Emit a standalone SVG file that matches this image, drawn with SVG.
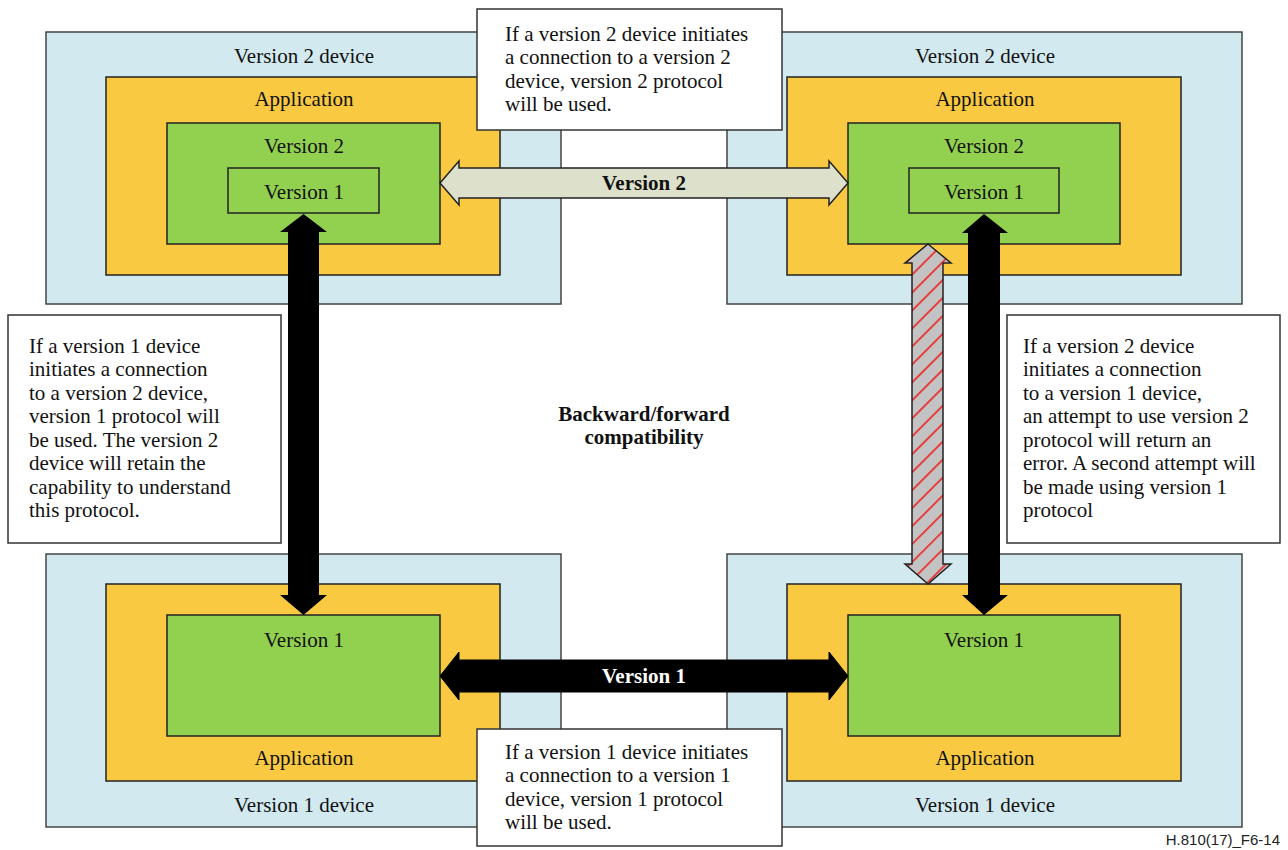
<svg xmlns="http://www.w3.org/2000/svg" width="1288" height="850" viewBox="0 0 1288 850">
<style>
.dev{fill:#D2E9EF;stroke:#444;stroke-width:1.5}
.app{fill:#F9C941;stroke:#222;stroke-width:1.5}
.ver{fill:#92D050;stroke:#222;stroke-width:1.5}
.box{fill:#fff;stroke:#333;stroke-width:1.5}
.t{font-family:"Liberation Serif","Times New Roman",serif;font-size:21px;fill:#111}
.c{text-anchor:middle}
.b{font-weight:bold}
</style>
<defs>
<pattern id="hatch" width="12.7" height="12.7" patternUnits="userSpaceOnUse" patternTransform="rotate(45)">
<rect width="12.7" height="12.7" fill="#C3C3C3"/>
<line x1="1" y1="0" x2="1" y2="12.7" stroke="#F02020" stroke-width="1.6"/>
</pattern>
</defs>
<rect width="1288" height="850" fill="#fff"/>

<g id="dev-tl">
<rect class="dev" x="46" y="32" width="515" height="272"/>
<text class="t c" x="304" y="63">Version 2 device</text>
<rect class="app" x="106" y="77" width="394" height="198"/>
<text class="t c" x="304" y="106">Application</text>
<rect class="ver" x="167" y="123" width="273" height="121"/>
<text class="t c" x="304" y="153">Version 2</text>
<rect class="ver" x="228" y="168" width="151" height="45"/>
<text class="t c" x="304" y="199">Version 1</text>
</g>

<g id="dev-tr">
<rect class="dev" x="727" y="32" width="515" height="272"/>
<text class="t c" x="985" y="63">Version 2 device</text>
<rect class="app" x="787" y="77" width="394" height="198"/>
<text class="t c" x="985" y="106">Application</text>
<rect class="ver" x="848" y="123" width="272" height="121"/>
<text class="t c" x="984" y="153">Version 2</text>
<rect class="ver" x="909" y="168" width="150" height="45"/>
<text class="t c" x="984" y="199">Version 1</text>
</g>

<g id="dev-bl">
<rect class="dev" x="46" y="554" width="515" height="273"/>
<text class="t c" x="304" y="812">Version 1 device</text>
<rect class="app" x="106" y="584" width="394" height="197"/>
<text class="t c" x="304" y="765">Application</text>
<rect class="ver" x="167" y="615" width="273" height="121"/>
<text class="t c" x="304" y="647">Version 1</text>
</g>

<g id="dev-br">
<rect class="dev" x="727" y="554" width="515" height="273"/>
<text class="t c" x="985" y="812">Version 1 device</text>
<rect class="app" x="787" y="584" width="394" height="197"/>
<text class="t c" x="985" y="765">Application</text>
<rect class="ver" x="848" y="615" width="272" height="121"/>
<text class="t c" x="984" y="647">Version 1</text>
</g>

<g id="connectors">
<polygon points="440,183 459,161 459,168 829,168 829,161 848,183 829,205 829,198 459,198 459,205" fill="#DDE1CC" stroke="#222" stroke-width="1.5"/>
<text class="t c b" x="644" y="190">Version 2</text>
<polygon points="440,676 459,652 459,660 829,660 829,652 848,676 829,700 829,692 459,692 459,700" fill="#000" stroke="#000" stroke-width="1"/>
<text class="t c b" x="644" y="683" fill="#fff" style="fill:#fff">Version 1</text>
<polygon points="303.5,214 327,232 319,232 319,595 327,595 303.5,615 280,595 288,595 288,232 280,232" fill="#000"/>
<polygon points="984,214 1008,233 1000,233 1000,595 1008,595 984,615 962,595 968,595 968,233 962,233" fill="#000"/>
<polygon points="928,244 951,263 943,263 943,564 951,564 928,584 905,564 912,564 912,263 905,263" fill="url(#hatch)" stroke="#222" stroke-width="1.5"/>
</g>

<g id="note-top">
<rect class="box" x="477" y="9" width="305" height="121"/>
<text class="t" x="505" y="41">If a version 2 device initiates</text>
<text class="t" x="505" y="64">a connection to a version 2</text>
<text class="t" x="505" y="88">device, version 2 protocol</text>
<text class="t" x="505" y="111">will be used.</text>
</g>

<g id="note-bottom">
<rect class="box" x="477" y="729" width="305" height="117"/>
<text class="t" x="505" y="759">If a version 1 device initiates</text>
<text class="t" x="505" y="782">a connection to a version 1</text>
<text class="t" x="505" y="806">device, version 1 protocol</text>
<text class="t" x="505" y="829">will be used.</text>
</g>

<g id="note-left">
<rect class="box" x="8" y="315" width="273" height="228"/>
<text class="t" x="29" y="353">If a version 1 device</text>
<text class="t" x="29" y="376">initiates a connection</text>
<text class="t" x="29" y="400">to a version 2 device,</text>
<text class="t" x="29" y="423">version 1 protocol will</text>
<text class="t" x="29" y="447">be used. The version 2</text>
<text class="t" x="29" y="470">device will retain the</text>
<text class="t" x="29" y="494">capability to understand</text>
<text class="t" x="29" y="517">this protocol.</text>
</g>

<g id="note-right">
<rect class="box" x="1007" y="315" width="273" height="228"/>
<text class="t" x="1023" y="353">If a version 2 device</text>
<text class="t" x="1023" y="376">initiates a connection</text>
<text class="t" x="1023" y="400">to a version 1 device,</text>
<text class="t" x="1023" y="423">an attempt to use version 2</text>
<text class="t" x="1023" y="447">protocol will return an</text>
<text class="t" x="1023" y="470">error. A second attempt will</text>
<text class="t" x="1023" y="494">be made using version 1</text>
<text class="t" x="1023" y="517">protocol</text>
</g>

<g id="title">
<text class="t c b" x="644" y="421">Backward/forward</text>
<text class="t c b" x="644" y="444">compatibility</text>
</g>

<text x="1280" y="845" text-anchor="end" style="font-family:'Liberation Sans',Arial,sans-serif;font-size:15px;fill:#222">H.810(17)_F6-14</text>
</svg>
